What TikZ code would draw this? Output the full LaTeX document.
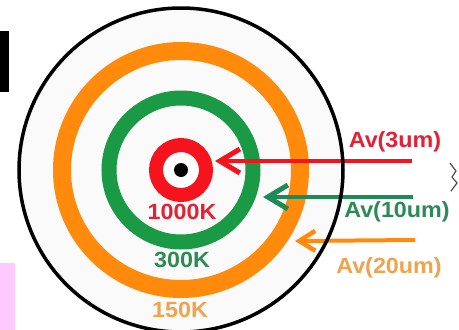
\documentclass[tikz,border=0pt]{standalone}
\usepackage{fontspec}
\setmainfont{Liberation Sans}
\usetikzlibrary{arrows.meta}
\definecolor{cred}{HTML}{F5141E}
\definecolor{cgreen}{HTML}{1A9A45}
\definecolor{corange}{HTML}{FF8A0C}
\definecolor{tred}{HTML}{E42035}
\definecolor{tgreen}{HTML}{2E8A55}
\definecolor{torange}{HTML}{F2A24A}
\definecolor{agreen}{HTML}{1E8A55}
\definecolor{cpink}{HTML}{FFC8FF}
\tikzset{
  lbl/.style={inner sep=0pt, xscale=1.06, font=\fontsize{22}{24}\selectfont\bfseries},
  ray/.style={line width=4pt, -{Straight Barb[length=20pt,width=24pt,line width=5pt]}},
}
\begin{document}
\begin{tikzpicture}[x=1pt,y=-1pt]
\useasboundingbox (0,0) rectangle (459,330);
\fill[white] (0,0) rectangle (459,330);
% side marks
\fill[black] (0,31) rectangle (9,92);
\fill[cpink] (0,263) rectangle (15,330);
% disc
\fill[gray!4] (181,170) circle[radius=162];
\draw[corange, line width=18pt] (181,170) circle[radius=119];
\draw[cgreen, line width=15pt] (181,170) circle[radius=72];
\fill[white] (181,170) circle[radius=18];
\draw[cred, line width=14pt] (181,170) circle[radius=25];
\fill[black] (181,170) circle[radius=7];
% coordinates
\coordinate (r0) at (412,161); \coordinate (r1) at (215,161);
\coordinate (g0) at (413,197); \coordinate (g1) at (263,197);
\coordinate (o0) at (415,240); \coordinate (o1) at (295,241);
\draw[ray, cred] (r0) -- (r1);
\draw[ray, agreen] (g0) -- (g1);
\draw[ray, corange, -{Straight Barb[length=16pt,width=20pt,line width=4.5pt]}] (o0) -- (o1);
% outline
\draw[black, line width=3.5pt] (181,170) circle[radius=162];
% labels
\node[lbl, text=tred] (a3) at (395,142) {Av(3um)};
\node[lbl, text=tgreen] (a10) at (397,212) {Av(10um)};
\node[lbl, text=torange] (a20) at (389,268) {Av(20um)};
\node[lbl, text=tred] (k1000) at (182,212) {1000K};
\node[lbl, text=tgreen] (k300) at (182,260) {300K};
\node[lbl, text=torange] (k150) at (180,310) {150K};
% partial mark at right edge
\draw[black!70, line width=1.2pt] (450,163) -- (456,171) -- (452,177) -- (457,183) -- (451,191);
\end{tikzpicture}
\end{document}
